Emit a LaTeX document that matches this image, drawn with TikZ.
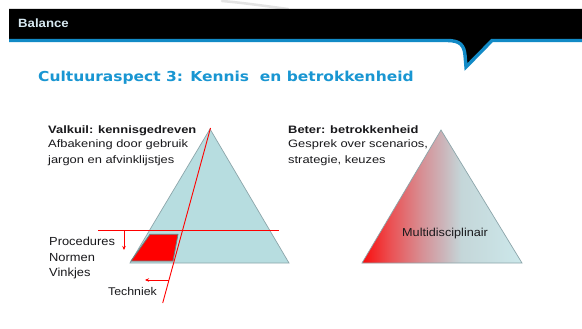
\documentclass[tikz,border=0pt]{standalone}
\usepackage{fontspec}
\setmainfont{Liberation Sans}
\newfontfamily\wideface[FakeStretch=1.2]{Liberation Sans}
\newfontfamily\midface[FakeStretch=1.1]{Liberation Sans}
\newfontfamily\titleface[FakeStretch=1.13]{DejaVu Sans}
\usetikzlibrary{arrows.meta}

\definecolor{headblue}{RGB}{18,138,198}
\definecolor{titleblue}{RGB}{25,150,210}
\definecolor{tealfill}{RGB}{183,221,224}
\definecolor{triedge}{RGB}{140,165,170}
\definecolor{ink}{RGB}{25,25,28}
\definecolor{headtext}{RGB}{215,232,240}

% red on the left fading through pink into pale teal on the right
\pgfdeclarehorizontalshading{redtoteal}{100bp}{%
  rgb(0bp)=(0.98,0.05,0.05);
  rgb(25bp)=(0.98,0.05,0.05);
  rgb(34bp)=(0.92,0.32,0.33);
  rgb(44bp)=(0.84,0.57,0.59);
  rgb(50bp)=(0.80,0.70,0.72);
  rgb(56bp)=(0.77,0.84,0.85);
  rgb(75bp)=(0.80,0.91,0.92);
  rgb(100bp)=(0.80,0.91,0.92)}

\tikzset{
  line/.style={inner sep=0pt, anchor=base west, text=ink},
  tri/.style={draw=triedge, line width=0.7pt},
  redline/.style={draw=red, line width=0.9pt},
  pointer/.style={draw=red, line width=0.8pt, -{Stealth[length=4pt,width=3.5pt]}},
}

\begin{document}
\begin{tikzpicture}[x=1pt,y=-1pt]
\useasboundingbox (0,0) rectangle (582,329);
\fill[white] (0,0) rectangle (582,329);

% faint swoosh above the header
\draw[gray!22, line width=2.5pt, line cap=round] (222,1) .. controls (245,3) and (265,6) .. (288,9);

% header bar with its notch
\fill[black] (9,9) -- (582,9) -- (582,41) -- (492,41) -- (466,67) -- (465,55)
  .. controls (464,45) and (460,41) .. (447,41) -- (9,41) -- cycle;
\draw[headblue, line width=3.4pt] (9,40.5) -- (447,40.5)
  .. controls (460,40.5) and (464,45) .. (465,55) -- (466,67) -- (492,40.5) -- (582,40.5);
\node[inner sep=0pt, anchor=base west, text=headtext, font=\midface\fontsize{12}{14}\selectfont\bfseries] (hdr) at (18,27.7) {Balance};

% title
\node[inner sep=0pt, anchor=base west, text=titleblue, font=\titleface\fontsize{13.7}{16}\selectfont\bfseries] (title) at (38,81.7) {Cultuuraspect 3: Kennis\ \ en betrokkenheid};

% left pyramid
\coordinate (lapex) at (210,129);
\coordinate (lbl) at (130,263);
\coordinate (lbr) at (289,263);
\fill[tealfill] (lbl) -- (lapex) -- (lbr) -- cycle;
\draw[tri] (lbl) -- (lapex) -- (lbr) -- cycle;
\filldraw[fill=red, draw=gray!80!teal, line width=0.8pt] (150,234.3) -- (178,234.3) -- (173,261) -- (131,261) -- cycle;

% cutting lines
\coordinate (hl) at (98,230.7);
\coordinate (hr) at (279,230.7);
\coordinate (st) at (210.5,128);
\coordinate (sb) at (162.7,303);
\draw[redline] (hl) -- (hr);
\draw[redline] (st) -- (sb);

\coordinate (downfrom) at (124,230.7);
\coordinate (downto) at (124,250);
\draw[pointer] (downfrom) -- (downto);
\coordinate (leftfrom) at (168.8,280);
\coordinate (leftto) at (145,280);
\draw[pointer] (leftfrom) -- (leftto);

% left texts
\node[line, font=\wideface\fontsize{10.75}{13}\selectfont\bfseries] (v1) at (48,133.3) {Valkuil: kennisgedreven};
\node[line, font=\wideface\fontsize{10.75}{13}\selectfont] (v2) at (48,148) {Afbakening door gebruik};
\node[line, font=\wideface\fontsize{10.75}{13}\selectfont] (v3) at (48,163.5) {jargon en afvinklijstjes};

\node[line, font=\midface\fontsize{11.7}{14}\selectfont] (p1) at (49,245.7) {Procedures};
\node[line, font=\midface\fontsize{11.7}{14}\selectfont] (p2) at (49,261) {Normen};
\node[line, font=\midface\fontsize{11.7}{14}\selectfont] (p3) at (49,276.7) {Vinkjes};
\node[line, font=\midface\fontsize{11.2}{14}\selectfont] (tech) at (108,295) {Techniek};

% right pyramid
\coordinate (rapex) at (441,130);
\coordinate (rbl) at (362,263);
\coordinate (rbr) at (522,263);
\shade[shading=redtoteal] (rbl) -- (rapex) -- (rbr) -- cycle;
\draw[tri] (rbl) -- (rapex) -- (rbr) -- cycle;
\node[line, font=\midface\fontsize{11.5}{14}\selectfont] (multi) at (402,236.7) {Multidisciplinair};

% right texts
\node[line, font=\wideface\fontsize{10.75}{13}\selectfont\bfseries] (b1) at (288,133.3) {Beter: betrokkenheid};
\node[line, font=\wideface\fontsize{10.75}{13}\selectfont] (b2) at (288,148) {Gesprek over scenarios,};
\node[line, font=\wideface\fontsize{10.75}{13}\selectfont] (b3) at (288,163.5) {strategie, keuzes};
\end{tikzpicture}
\end{document}
